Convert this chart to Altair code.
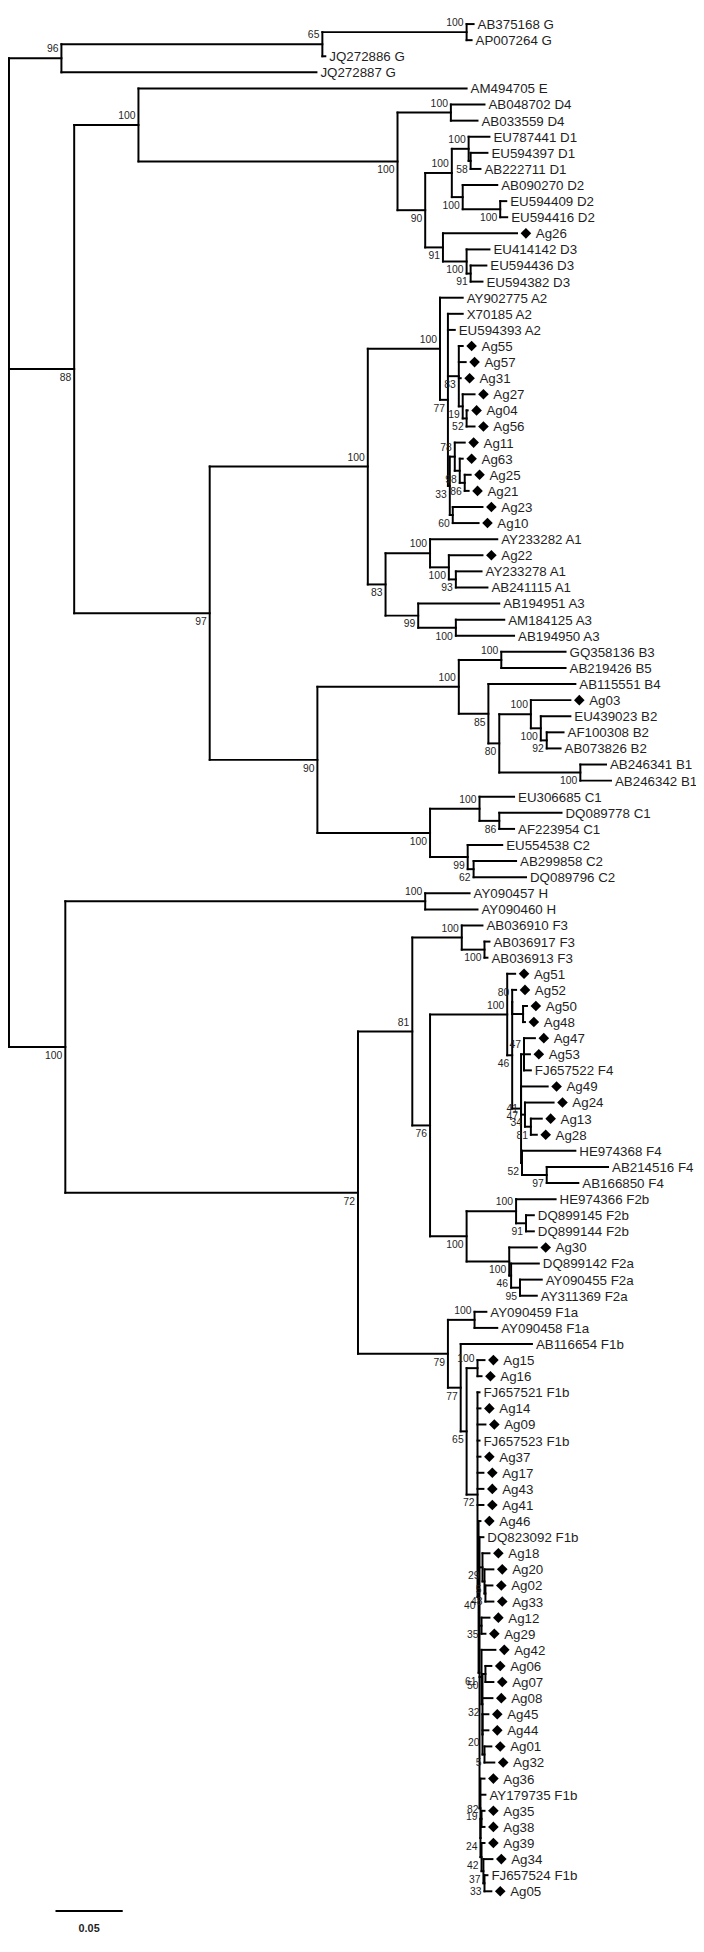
import altair as alt
import pandas as pd

# ---------------- data ----------------
leaf_names = [
    "AB375168 G", "AP007264 G", "JQ272886 G", "JQ272887 G", "AM494705 E",
    "AB048702 D4", "AB033559 D4", "EU787441 D1", "EU594397 D1", "AB222711 D1",
    "AB090270 D2", "EU594409 D2", "EU594416 D2", "Ag26", "EU414142 D3",
    "EU594436 D3", "EU594382 D3", "AY902775 A2", "X70185 A2", "EU594393 A2",
    "Ag55", "Ag57", "Ag31", "Ag27", "Ag04", "Ag56", "Ag11", "Ag63", "Ag25", "Ag21",
    "Ag23", "Ag10", "AY233282 A1", "Ag22", "AY233278 A1", "AB241115 A1",
    "AB194951 A3", "AM184125 A3", "AB194950 A3", "GQ358136 B3", "AB219426 B5",
    "AB115551 B4", "Ag03", "EU439023 B2", "AF100308 B2", "AB073826 B2",
    "AB246341 B1", "AB246342 B1", "EU306685 C1", "DQ089778 C1", "AF223954 C1",
    "EU554538 C2", "AB299858 C2", "DQ089796 C2", "AY090457 H", "AY090460 H",
    "AB036910 F3", "AB036917 F3", "AB036913 F3", "Ag51", "Ag52", "Ag50", "Ag48",
    "Ag47", "Ag53", "FJ657522 F4", "Ag49", "Ag24", "Ag13", "Ag28", "HE974368 F4",
    "AB214516 F4", "AB166850 F4", "HE974366 F2b", "DQ899145 F2b", "DQ899144 F2b",
    "Ag30", "DQ899142 F2a", "AY090455 F2a", "AY311369 F2a", "AY090459 F1a",
    "AY090458 F1a", "AB116654 F1b", "Ag15", "Ag16", "FJ657521 F1b", "Ag14", "Ag09",
    "FJ657523 F1b", "Ag37", "Ag17", "Ag43", "Ag41", "Ag46", "DQ823092 F1b", "Ag18",
    "Ag20", "Ag02", "Ag33", "Ag12", "Ag29", "Ag42", "Ag06", "Ag07", "Ag08", "Ag45",
    "Ag44", "Ag01", "Ag32", "Ag36", "AY179735 F1b", "Ag35", "Ag38", "Ag39", "Ag34",
    "FJ657524 F1b", "Ag05",
]
leaf_parent = [
    "G100", "G100", "G65", "G96", "ED100",
    "D4", "D4", "D1", "D1b", "D1b",
    "D2", "D2b", "D2b", "D91", "D3",
    "D3b", "D3b", "A2n", "A77", "A77",
    "A83", "A83", "A83", "A19", "A52", "A52", "AA", "AB", "A86", "A86",
    "A60", "A60", "A1n", "A1b", "A93", "A93",
    "A3n", "A3b", "A3b", "B35", "B35",
    "B85", "B2n", "B2b", "B92", "B92",
    "B1n", "B1n", "C1n", "C86", "C86",
    "C2n", "C62", "C62", "Hn", "Hn",
    "F3n", "F3b", "F3b", "F4n", "F80", "F80b", "F80b",
    "FQ", "FQ", "FQ", "F41", "F34", "F81b", "F81b", "F52",
    "F97", "F97", "F2b", "F91", "F91",
    "F2a", "F46b", "F95", "F95", "F1a",
    "F1a", "F77", "F100", "F100", "F72b", "F72b", "F72b",
    "F72b", "F72b", "F72b", "F72b", "F72b", "F40", "F61", "G1",
    "G2", "G48", "G48", "F35", "F35", "F50", "G3", "G3", "F32", "F0",
    "F0", "F5", "F5", "F19", "F19", "F82", "F82", "F42", "F37",
    "F33", "F33",
]
leaf_depth = [
    0.3456, 0.3441, 0.2353, 0.2287, 0.3404,
    0.3537, 0.3485, 0.3574, 0.3559, 0.3507,
    0.3632, 0.3699, 0.3706, 0.3779, 0.3574,
    0.3551, 0.3522, 0.3375, 0.3375, 0.3316,
    0.3375, 0.3397, 0.3360, 0.3463, 0.3412, 0.3463, 0.3390, 0.3375, 0.3434, 0.3419,
    0.3522, 0.3493, 0.3632, 0.3522, 0.3515, 0.3559,
    0.3647, 0.3684, 0.3757, 0.4140, 0.4140,
    0.4213, 0.4176, 0.4176, 0.4125, 0.4103,
    0.4441, 0.4478, 0.3757, 0.4110, 0.3757,
    0.3669, 0.3772, 0.3846, 0.3426, 0.3485,
    0.3522, 0.3574, 0.3559, 0.3765, 0.3772, 0.3853, 0.3838,
    0.3912, 0.3875, 0.3882, 0.4007, 0.4051, 0.3963, 0.3926, 0.4213,
    0.4456, 0.4235, 0.4066, 0.3904, 0.3904,
    0.3926, 0.3941, 0.3963, 0.3926, 0.3551,
    0.3632, 0.3890, 0.3537, 0.3515, 0.3500, 0.3507, 0.3544,
    0.3500, 0.3507, 0.3529, 0.3529, 0.3529, 0.3507, 0.3529, 0.3574,
    0.3603, 0.3596, 0.3603, 0.3574, 0.3544, 0.3618, 0.3588, 0.3603, 0.3596, 0.3566,
    0.3566, 0.3588, 0.3610, 0.3537, 0.3544, 0.3537, 0.3537, 0.3537, 0.3596,
    0.3559, 0.3588,
]

node_names = [
    "root", "G96", "G65", "G100", "N88", "ED100", "DAll", "D4", "D90", "D1D2",
    "D1", "D1b", "D2", "D2b", "D91", "D3", "D3b", "N97", "A100", "A2n", "A77",
    "A83", "A19", "A52", "AY", "AA", "AB", "A86", "A60", "A83b", "A1n", "A1b",
    "A93", "A3n", "A3b", "BC90", "Bn", "B35", "B85", "B80", "B2n", "B2b", "B92",
    "B1n", "Cn", "C1n", "C86", "C2n", "C62", "HF", "Hn", "F72", "F81", "F3n",
    "F3b", "F76", "F4n", "F46", "F80", "F80b", "FZ", "FQ", "F41", "F34", "F81b",
    "F52", "F97", "F2n", "F2b", "F91", "F2a", "F46b", "F95", "F79", "F1a", "F77",
    "F65", "F100", "F72b", "F40", "F61", "G1", "G2", "G48", "F35", "F50", "F32",
    "G3", "F0", "F5", "F19", "F24", "F82", "F42", "F37", "F33",
]
node_parent = [
    None, "root", "G96", "G65", "root", "N88", "ED100", "DAll", "DAll", "D90",
    "D1D2", "D1", "D1D2", "D2", "D90", "D91", "D3", "N88", "N97", "A100", "A2n",
    "A77", "A83", "A19", "A77", "AY", "AA", "AB", "AY", "A100", "A83b", "A1n",
    "A1b", "A83b", "A3n", "N97", "BC90", "Bn", "Bn", "B85", "B80", "B2n", "B2b",
    "B80", "BC90", "Cn", "C1n", "Cn", "C2n", "root", "HF", "HF", "F72", "F81",
    "F3n", "F81", "F76", "F4n", "F46", "F80", "F46", "FZ", "FZ", "F41", "F34",
    "FZ", "F52", "F76", "F2n", "F2b", "F2n", "F2a", "F46b", "F72", "F79", "F79",
    "F77", "F65", "F65", "F72b", "F40", "F61", "G1", "G2", "F61", "F61", "F50",
    "F32", "F32", "F0", "F61", "F19", "F24", "F24", "F42", "F37",
]
node_depth = [
    0.0, 0.0390, 0.2331, 0.3404, 0.0485, 0.0963, 0.2890, 0.3287, 0.3096, 0.3294,
    0.3419, 0.3434, 0.3375, 0.3654, 0.3228, 0.3404, 0.3434, 0.1493, 0.2669, 0.3206, 0.3265,
    0.3346, 0.3375, 0.3404, 0.3279, 0.3316, 0.3353, 0.3390, 0.3301, 0.2801, 0.3132, 0.3272,
    0.3324, 0.3044, 0.3324, 0.2294, 0.3346, 0.3662, 0.3566, 0.3647, 0.3882, 0.3956, 0.4000,
    0.4250, 0.3132, 0.3500, 0.3647, 0.3412, 0.3456, 0.0419, 0.3096, 0.2596, 0.3000, 0.3368,
    0.3537, 0.3132, 0.3706, 0.3743, 0.3743, 0.3824, 0.3809, 0.3831, 0.3809, 0.3838, 0.3882,
    0.3816, 0.4000, 0.3404, 0.3772, 0.3846, 0.3721, 0.3735, 0.3801, 0.3265, 0.3463, 0.3360,
    0.3404, 0.3485, 0.3485, 0.3493, 0.3500, 0.3522, 0.3537, 0.3544, 0.3515, 0.3515, 0.3522,
    0.3544, 0.3522, 0.3537, 0.3507, 0.3507, 0.3515, 0.3515, 0.3529, 0.3537,
]
node_support = [
    None, 96, 65, 100, 88, 100, 100, 100, 90, 100,
    100, 58, 100, 100, 91, 100, 91, 97, 100, 100, 77,
    83, 19, 52, 33, 78, 98, 86, 60, 83, 100, 100,
    93, 99, 100, 90, 100, 100, 85, 80, 100, 100, 92,
    100, 100, 100, 86, 99, 62, 100, 100, 72, 81, 100,
    100, 76, 100, 46, 80, None, 47, 47, 41, 34, 81,
    52, 97, 100, 100, 91, 100, 46, 95, 79, 100, 77,
    65, 100, 72, 40, 61, 29, 5, 48, 35, 50, 32,
    None, 20, 5, 19, 24, 82, 42, 37, 33,
]

scale_bar_length = 0.05
scale_bar_text = "0.05"

# ---------------- tree layout ----------------
depth = dict(zip(leaf_names, leaf_depth))
depth.update(zip(node_names, node_depth))
parent = dict(zip(leaf_names, leaf_parent))
parent.update(zip(node_names, node_parent))
support = dict(zip(node_names, node_support))
kids = {n: [] for n in node_names}
for c, p in parent.items():
    if p is not None:
        kids[p].append(c)
order = {n: i for i, n in enumerate(leaf_names)}


def first_leaf(n):
    if n in order:
        return order[n]
    return min(first_leaf(c) for c in kids[n])


for n in kids:
    kids[n].sort(key=first_leaf)

ypos = {}


def place(n):
    if n in order:
        ypos[n] = float(order[n])
    else:
        ys = [place(c) for c in kids[n]]
        ypos[n] = (ys[0] + ys[-1]) / 2.0
    return ypos[n]


place("root")

segs = []
for n in leaf_names + node_names:
    p = parent[n]
    if p is not None:
        segs.append(dict(x=depth[p], x2=depth[n], y=ypos[n], y2=ypos[n]))
for n in node_names:
    k = kids[n]
    segs.append(dict(x=depth[n], x2=depth[n], y=ypos[k[0]], y2=ypos[k[-1]]))
seg_df = pd.DataFrame(segs)

sup_rows = []
for n in node_names:
    s = support[n]
    if s is None:
        continue
    p = parent[n]
    above = p is not None and kids[p][0] == n
    sup_rows.append(dict(x=depth[n], y=ypos[n], text=str(s),
                         pos="above" if above else "below"))
sup_df = pd.DataFrame(sup_rows)

leaf_df = pd.DataFrame(dict(
    name=leaf_names,
    x=leaf_depth,
    y=[float(i) for i in range(len(leaf_names))],
    sample=[n.startswith("Ag") for n in leaf_names],
))

bar_x0 = 0.0346
bar_df = pd.DataFrame([dict(x=bar_x0, x2=bar_x0 + scale_bar_length, y=117.23)])
bar_lab = pd.DataFrame([dict(x=bar_x0 + scale_bar_length / 2, y=118.34, text=scale_bar_text)])

# ---------------- chart ----------------
W, H = 696, 1936
px_per_unit = 1360.0
xmin = -1.0 / px_per_unit
xs = alt.Scale(domain=[xmin, xmin + W / px_per_unit], nice=False, zero=False)
row_h = 16.284
ymin = -5.0 / row_h
ys = alt.Scale(domain=[ymin, ymin + H / row_h], nice=False, zero=False, reverse=True)

FONT = "Liberation Sans"
TXT = "#1f1f1f"

X = alt.X("x:Q", scale=xs, axis=None)
Y = alt.Y("y:Q", scale=ys, axis=None)

lines = alt.Chart(seg_df).mark_rule(color="black", strokeWidth=2, strokeCap="square").encode(
    x=X, x2="x2:Q", y=Y, y2="y2:Q",
)

diamonds = alt.Chart(leaf_df).transform_filter("datum.sample").mark_point(
    shape="diamond", filled=True, color="black", size=115, opacity=1, xOffset=9,
).encode(x=X, y=Y)

lab_ag = alt.Chart(leaf_df).transform_filter("datum.sample").mark_text(
    align="left", baseline="middle", dx=19, dy=1, fontSize=13.5, font=FONT, color=TXT,
).encode(x=X, y=Y, text="name:N")

lab_ref = alt.Chart(leaf_df).transform_filter("!datum.sample").mark_text(
    align="left", baseline="middle", dx=4, dy=1, fontSize=13.5, font=FONT, color=TXT,
).encode(x=X, y=Y, text="name:N")

sup_above = alt.Chart(sup_df).transform_filter("datum.pos == 'above'").mark_text(
    align="right", baseline="middle", dx=-3, dy=-9, fontSize=10.5, font=FONT, color=TXT,
).encode(x=X, y=Y, text="text:N")

sup_below = alt.Chart(sup_df).transform_filter("datum.pos == 'below'").mark_text(
    align="right", baseline="middle", dx=-3, dy=9, fontSize=10.5, font=FONT, color=TXT,
).encode(x=X, y=Y, text="text:N")

bar = alt.Chart(bar_df).mark_rule(color="black", strokeWidth=2).encode(
    x=X, x2="x2:Q", y=Y,
)
bar_text = alt.Chart(bar_lab).mark_text(
    align="center", baseline="middle", fontSize=11, fontWeight="bold", font=FONT, color=TXT,
).encode(x=X, y=Y, text="text:N")

chart = alt.layer(lines, diamonds, lab_ag, lab_ref, sup_above, sup_below, bar, bar_text).properties(
    width=W, height=H, padding=0, autosize=alt.AutoSizeParams(type="none"),
    background="white",
).configure_view(stroke=None)

chart.save("out.html", embed_options={"renderer": "svg", "actions": False})
